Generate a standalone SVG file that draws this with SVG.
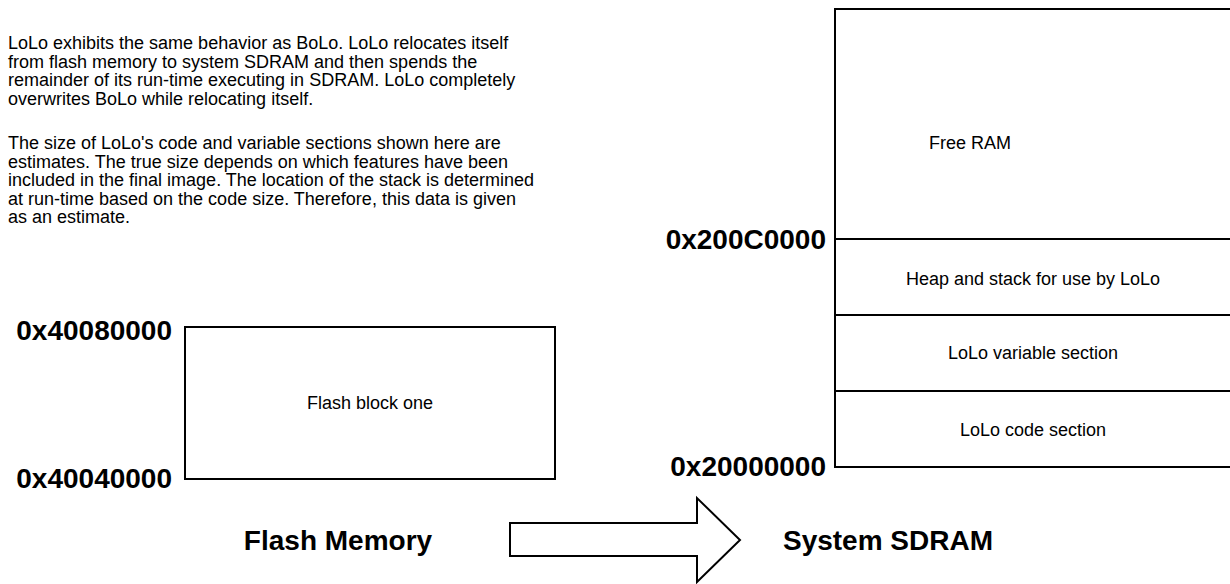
<svg xmlns="http://www.w3.org/2000/svg" width="1230" height="584" viewBox="0 0 1230 584">
<style>
.p{font-family:"Liberation Sans",Arial,sans-serif;font-size:18px;fill:#000}
.l{font-family:"Liberation Sans",Arial,sans-serif;font-size:18px;fill:#000;text-anchor:middle}
.h{font-family:"Liberation Sans",Arial,sans-serif;font-size:28px;font-weight:bold;fill:#000;text-anchor:end}
.t{font-family:"Liberation Sans",Arial,sans-serif;font-size:28px;font-weight:bold;fill:#000;text-anchor:middle}
.b{fill:#fff;stroke:#000;stroke-width:2}
.s{stroke:#000;stroke-width:2;fill:none}
</style>
<rect width="1230" height="584" fill="#fff"/>
<g id="description">
<text class="p" x="8" y="49">LoLo exhibits the same behavior as BoLo. LoLo relocates itself</text>
<text class="p" x="8" y="68">from flash memory to system SDRAM and then spends the</text>
<text class="p" x="8" y="86">remainder of its run-time executing in SDRAM. LoLo completely</text>
<text class="p" x="8" y="105">overwrites BoLo while relocating itself.</text>
<text class="p" x="8" y="149">The size of LoLo's code and variable sections shown here are</text>
<text class="p" x="8" y="168">estimates. The true size depends on which features have been</text>
<text class="p" x="8" y="186">included in the final image. The location of the stack is determined</text>
<text class="p" x="8" y="205">at run-time based on the code size. Therefore, this data is given</text>
<text class="p" x="8" y="223">as an estimate.</text>
</g>
<g id="flash">
<rect class="b" x="185" y="327" width="370" height="152"/>
<text class="l" x="370" y="409">Flash block one</text>
<text class="h" x="172" y="340">0x40080000</text>
<text class="h" x="172" y="488">0x40040000</text>
<text class="t" x="338" y="550">Flash Memory</text>
</g>
<g id="sdram">
<rect class="b" x="835" y="9" width="400" height="458"/>
<line class="s" x1="835" y1="239" x2="1235" y2="239"/>
<line class="s" x1="835" y1="315" x2="1235" y2="315"/>
<line class="s" x1="835" y1="391" x2="1235" y2="391"/>
<text class="p" x="929" y="149">Free RAM</text>
<text class="l" x="1033" y="285">Heap and stack for use by LoLo</text>
<text class="l" x="1033" y="359">LoLo variable section</text>
<text class="l" x="1033" y="436">LoLo code section</text>
<text class="h" x="826" y="249">0x200C0000</text>
<text class="h" x="826" y="476">0x20000000</text>
<text class="t" x="888" y="550">System SDRAM</text>
</g>
<g id="connectors">
<polygon class="b" points="510,523 697,523 697,498 740,540 697,582 697,556 510,556"/>
</g>
</svg>
